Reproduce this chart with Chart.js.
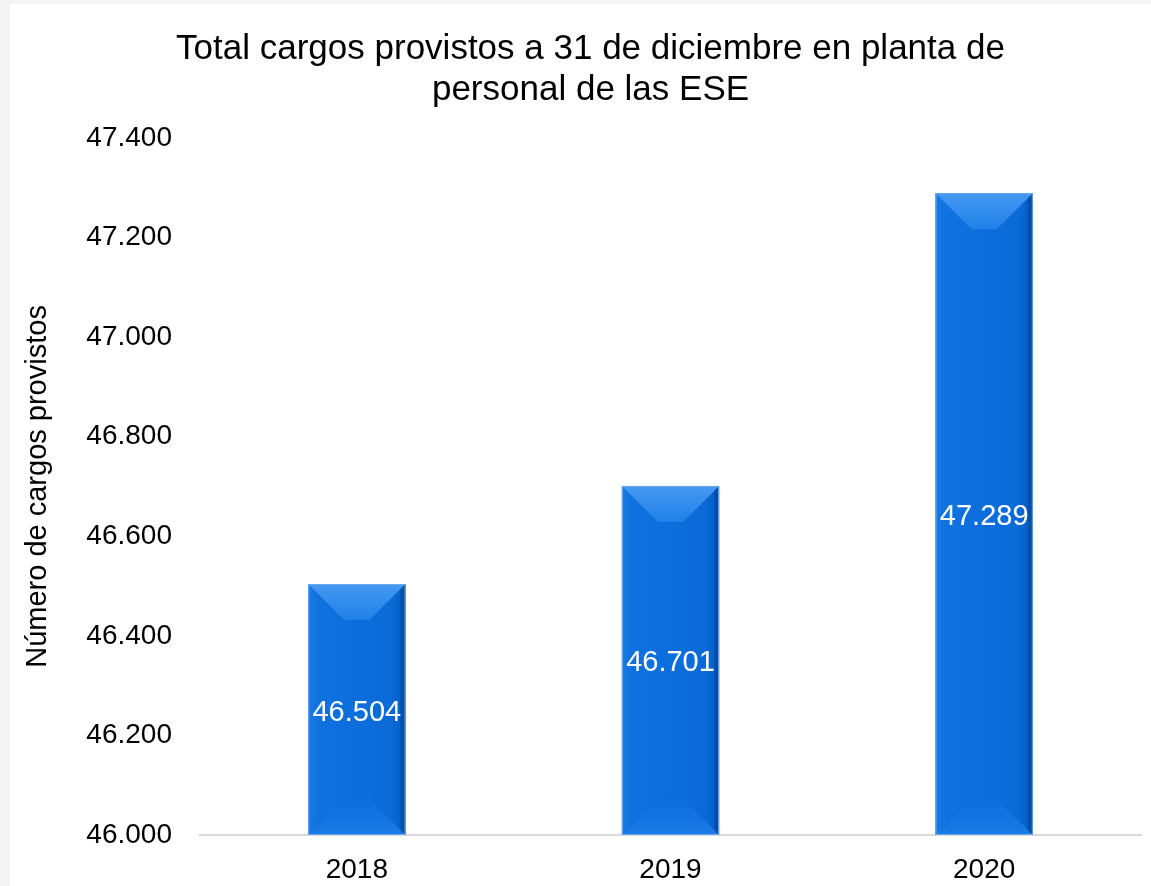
<!DOCTYPE html>
<html>
<head>
<meta charset="utf-8">
<script src="https://cdn.jsdelivr.net/npm/chart.js@4"></script>
<style>
  html, body { margin: 0; padding: 0; background: #f4f4f4; }
  #wrap { position: absolute; left: 10px; top: 4px; width: 1141px; height: 882px; background: #fff; }
</style>
</head>
<body>
<div id="wrap"><canvas id="myChart" width="1141" height="882"></canvas></div>
<script>
const years = ['2018', '2019', '2020']
const cargos = [46504, 46701, 47289]
const yMin = 46000
const yMax = 47400
const yStep = 200

const fmt = v => String(Math.round(v)).replace(/\B(?=(\d{3})+(?!\d))/g, '.')
const FONT = "'Liberation Sans', Arial, sans-serif"

// bevelled look of the bars, drawn over the bar elements
const bevelPlugin = {
  id: 'bevel',
  afterDatasetsDraw(chart) {
    const ctx = chart.ctx
    const area = chart.chartArea
    chart.getDatasetMeta(0).data.forEach((bar, i) => {
      const p = bar.getProps(['x', 'y', 'base', 'width'], true)
      const l = p.x - p.width / 2, r = p.x + p.width / 2
      const t = p.y, b = Math.min(p.base, area.bottom)
      const d = Math.min(36, (b - t) / 2)
      ctx.save()
      // body gradient
      const g = ctx.createLinearGradient(l, 0, r, 0)
      g.addColorStop(0, '#1a7ae4')
      g.addColorStop(0.1, '#0f72e0')
      g.addColorStop(0.85, '#0a6ad8')
      g.addColorStop(0.95, '#0860c8')
      g.addColorStop(1, '#0552ac')
      ctx.fillStyle = g
      ctx.fillRect(l, t, r - l, b - t)
      // top bevel
      const gt = ctx.createLinearGradient(0, t, 0, t + d)
      gt.addColorStop(0, '#4599f2')
      gt.addColorStop(1, '#2080e8')
      ctx.fillStyle = gt
      ctx.beginPath()
      ctx.moveTo(l, t); ctx.lineTo(r, t); ctx.lineTo(r - d, t + d); ctx.lineTo(l + d, t + d); ctx.closePath()
      ctx.fill()
      // bottom bevel
      const gb = ctx.createLinearGradient(0, b - d, 0, b)
      gb.addColorStop(0, '#0c6edc')
      gb.addColorStop(1, '#1a7ae6')
      ctx.fillStyle = gb
      ctx.beginPath()
      ctx.moveTo(l, b); ctx.lineTo(r, b); ctx.lineTo(r - d, b - d); ctx.lineTo(l + d, b - d); ctx.closePath()
      ctx.fill()
      // right edge shade
      ctx.fillStyle = 'rgba(0,40,110,0.25)'
      ctx.beginPath()
      ctx.moveTo(r, t); ctx.lineTo(r, b); ctx.lineTo(r - 5, b - 5); ctx.lineTo(r - 5, t + 5); ctx.closePath()
      ctx.fill()
      ctx.strokeStyle = '#6fa9ec'
      ctx.lineWidth = 1
      ctx.strokeRect(l + 0.5, t + 0.5, r - l - 1, b - t - 1)
      // value label
      ctx.fillStyle = '#fff'
      ctx.font = '29px ' + FONT
      ctx.textAlign = 'center'
      ctx.textBaseline = 'middle'
      ctx.fillText(fmt(cargos[i]), p.x, (t + b) / 2 + 3)
      ctx.restore()
    })
  }
}

const ctx = document.getElementById('myChart')
new Chart(ctx, {
  type: 'bar',
  data: {
    labels: years,
    datasets: [{
      data: cargos,
      backgroundColor: '#0a6ad8',
      borderWidth: 0,
      barPercentage: 0.62,
      categoryPercentage: 0.5
    }]
  },
  options: {
    responsive: false,
    animation: false,
    layout: { padding: { left: 30, right: 10, top: 0, bottom: 0 } },
    plugins: {
      legend: { display: false },
      tooltip: { enabled: false },
      title: {
        display: true,
        text: ['Total cargos provistos a 31 de diciembre en planta de', 'personal de las ESE'],
        color: '#000',
        font: { family: FONT, size: 35, weight: 'normal', lineHeight: 1.17 },
        padding: { top: 25, bottom: 27 }
      }
    },
    scales: {
      x: {
        grid: { display: false, drawTicks: false },
        border: { display: true, color: '#d9d9d9', width: 2 },
        ticks: { color: '#000', font: { family: FONT, size: 28 }, padding: 18 },
        afterFit: s => { s.height = 51 }
      },
      y: {
        min: yMin,
        max: yMax,
        grid: { display: false, drawTicks: false },
        border: { display: false },
        ticks: {
          stepSize: yStep,
          color: '#000',
          font: { family: FONT, size: 28 },
          padding: 28,
          callback: v => fmt(v)
        },
        title: {
          display: true,
          text: 'Número de cargos provistos',
          color: '#000',
          font: { family: FONT, size: 29 },
          padding: { top: -19, bottom: 0 }
        },
        afterFit: s => { s.width = 160 }
      }
    }
  },
  plugins: [bevelPlugin]
})
</script>
</body>
</html>
